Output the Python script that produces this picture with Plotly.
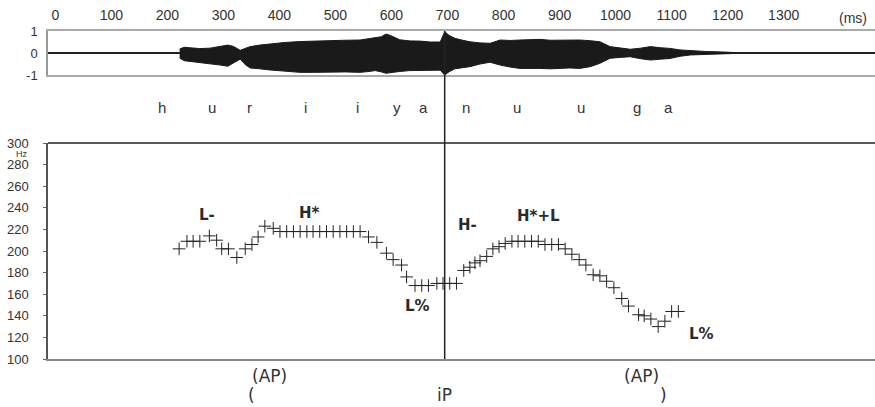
import plotly.graph_objects as go

# ---------------- data ----------------
time_ticks = [0, 100, 200, 300, 400, 500, 600, 700, 800, 900, 1000, 1100, 1200, 1300]

# waveform envelope (ms, normalised amplitude)
wave_ms = [222, 230, 240, 258, 276, 295, 308, 318, 330, 340, 348, 365, 383, 410, 437, 463, 490, 517, 544, 560,
           571, 582, 590, 598, 615, 633, 651, 670, 687,
           695, 703, 713, 727, 740, 758, 776, 794, 812, 829, 847, 865, 883, 901, 918, 936, 955, 972,
           990, 1008, 1026, 1045, 1062, 1080, 1097, 1115, 1133, 1160, 1187, 1213]
wave_upper = [0.18, 0.26, 0.24, 0.20, 0.22, 0.30, 0.36, 0.30, 0.12, 0.22, 0.29, 0.36, 0.42, 0.48, 0.52, 0.55, 0.57, 0.58, 0.59, 0.64,
              0.70, 0.74, 0.86, 0.80, 0.60, 0.55, 0.54, 0.50, 0.50,
              0.97, 0.80, 0.67, 0.58, 0.51, 0.46, 0.44, 0.59, 0.57, 0.59, 0.60, 0.62, 0.58, 0.59, 0.57, 0.59, 0.56, 0.51,
              0.29, 0.22, 0.17, 0.22, 0.29, 0.24, 0.21, 0.14, 0.10, 0.07, 0.05, 0.02]
wave_lower = [-0.23, -0.35, -0.40, -0.45, -0.50, -0.55, -0.60, -0.45, -0.28, -0.55, -0.68, -0.72, -0.77, -0.84, -0.88, -0.88, -0.88, -0.86, -0.88, -0.84,
              -0.80, -0.86, -0.92, -0.90, -0.84, -0.80, -0.80, -0.78, -0.78,
              -1.00, -0.85, -0.72, -0.66, -0.62, -0.50, -0.42, -0.55, -0.64, -0.70, -0.70, -0.70, -0.72, -0.70, -0.68, -0.70, -0.62, -0.47,
              -0.24, -0.20, -0.17, -0.26, -0.32, -0.28, -0.25, -0.15, -0.09, -0.07, -0.05, -0.02]

# phoneme labels
phonemes = ["h", "u", "r", "i", "i", "y", "a", "n", "u", "u", "g", "a"]
phoneme_ms = [190, 280, 347, 447, 540, 610, 658, 733, 824, 938, 1038, 1095]

# pitch track (ms, Hz)
pitch_ms = [221, 235, 246, 258, 275, 288, 297, 309, 324, 339, 351, 362, 374, 389,
            401, 413, 425, 437, 449, 460, 472, 484, 496, 508, 520, 532, 544,
            559, 574, 591, 603, 618, 627, 642, 654, 666, 681, 692, 704, 716,
            729, 740, 749, 758, 770, 781, 792, 803, 815, 826, 838, 850, 862,
            874, 886, 898, 910, 922, 935, 947, 960, 972, 984, 997, 1011, 1023,
            1041, 1051, 1063, 1076, 1088, 1100, 1112]
pitch_hz = [202, 209, 209, 209, 214, 210, 202, 202, 194, 202, 206, 213, 223, 221,
            218, 218, 218, 218, 218, 218, 218, 218, 218, 218, 218, 218, 218,
            213, 208, 198, 192, 187, 176, 168, 168, 168, 170, 170, 170, 170,
            182, 185, 189, 191, 195, 202, 204, 207, 209, 209, 209, 209, 209,
            206, 206, 206, 202, 197, 192, 187, 178, 177, 172, 166, 156, 149,
            141, 140, 137, 130, 135, 144, 144]
hz_ticks = [100, 120, 140, 160, 180, 200, 220, 240, 260, 280, 300]

# tone labels (text, ms, Hz)
tone_text = ["L-", "H*", "L%", "H-", "H*+L", "L%"]
tone_ms = [271, 454, 647, 736, 863, 1154]
tone_hz = [233, 235, 149, 224, 232, 123]

# phrase labels (text, ms, row)
phrase_text = ["(AP)", "(", "(AP)", ")", "iP"]
phrase_ms = [383, 351, 1047, 1085, 694]
phrase_row = [0, 1, 0, 1, 1]

boundary_ms = 695

# ---------------- figure ----------------
W, H = 875, 407
X0 = 48 / W
XR = [-13, 1463]

def py(p):
    return (H - p) / H

fig = go.Figure()

fig.add_trace(go.Scatter(
    x=wave_ms + wave_ms[::-1], y=wave_upper + wave_lower[::-1],
    fill="toself", fillcolor="#1a1a1a", line=dict(color="#1a1a1a", width=1),
    mode="lines", xaxis="x", yaxis="y", hoverinfo="skip", showlegend=False))

fig.add_trace(go.Scatter(
    x=pitch_ms, y=pitch_hz, mode="markers",
    marker=dict(symbol="cross-thin", size=9, line=dict(color="#222", width=1), color="#222"),
    xaxis="x2", yaxis="y2", showlegend=False))

fig.update_layout(
    template="none",
    autosize=False,
    width=W, height=H, margin=dict(l=0, r=0, t=0, b=0, pad=0),
    paper_bgcolor="white", plot_bgcolor="white",
    font=dict(family="Liberation Sans, Arial", color="#333"),
    xaxis=dict(domain=[X0, 1], range=XR, side="top", anchor="y", automargin=False,
               tickvals=time_ticks, ticks="", showgrid=False, zeroline=False,
               showline=True, mirror=True, linecolor="#aaa", linewidth=1.5,
               tickfont=dict(size=14, color="#333"), ticklabelstandoff=4),
    yaxis=dict(domain=[py(75), py(31)], range=[-1, 1], anchor="x", automargin=False,
               tickvals=[-1, 0, 1], ticktext=["-1", "0", "1"], ticks="",
               showgrid=False, zeroline=True, zerolinecolor="#222", zerolinewidth=1.5,
               showline=True, linecolor="#999", linewidth=1.5,
               tickfont=dict(size=13, color="#333"), ticklabelstandoff=6),
    xaxis2=dict(domain=[X0, 1], range=XR, anchor="y2", showticklabels=False, automargin=False,
                ticks="", showgrid=False, zeroline=False,
                showline=True, linecolor="#888", linewidth=2),
    yaxis2=dict(domain=[py(359), py(143)], range=[100, 300], anchor="x2", automargin=False,
                tickvals=hz_ticks, ticks="outside", ticklen=3, tickcolor="#666",
                showgrid=False, zeroline=False,
                showline=True, linecolor="#555", linewidth=1.5,
                tickfont=dict(size=13, color="#333"), ticklabelstandoff=12),
)

shapes = [
    dict(type="line", xref="paper", yref="paper", x0=X0, x1=1, y0=py(143), y1=py(143),
         line=dict(color="#222", width=1.5)),
    dict(type="line", xref="x", yref="paper", x0=boundary_ms, x1=boundary_ms,
         y0=py(359), y1=py(31), line=dict(color="#222", width=1.5)),
]
fig.update_layout(shapes=shapes)

C = dict(showarrow=False, xanchor="center", yanchor="middle")
ann = []
ann.append(dict(text="(ms)", xref="paper", yref="paper", x=853 / W, y=py(18),
                font=dict(size=14, color="#333"), **C))
ann.append(dict(text="Hz", xref="paper", yref="paper", x=22 / W, y=py(153.5),
                font=dict(size=9, color="#333"), **C))
for t, m in zip(phonemes, phoneme_ms):
    ann.append(dict(text=t, xref="x", yref="paper", x=m, y=py(108),
                    font=dict(family="Liberation Sans Narrow, Liberation Sans", size=15, color="#333"), **C))
for t, m, h in zip(tone_text, tone_ms, tone_hz):
    ann.append(dict(text=t, xref="x2", yref="y2", x=m, y=h,
                    font=dict(family="DejaVu Sans", size=15, color="#2a2a2a", weight="bold"), **C))
for t, m, r in zip(phrase_text, phrase_ms, phrase_row):
    ann.append(dict(text=t, xref="x", yref="paper", x=m, y=py(376 if r == 0 else 395),
                    font=dict(family="DejaVu Sans", size=17, color="#333"), **C))
fig.update_layout(annotations=ann)

fig.write_html("out.html")
